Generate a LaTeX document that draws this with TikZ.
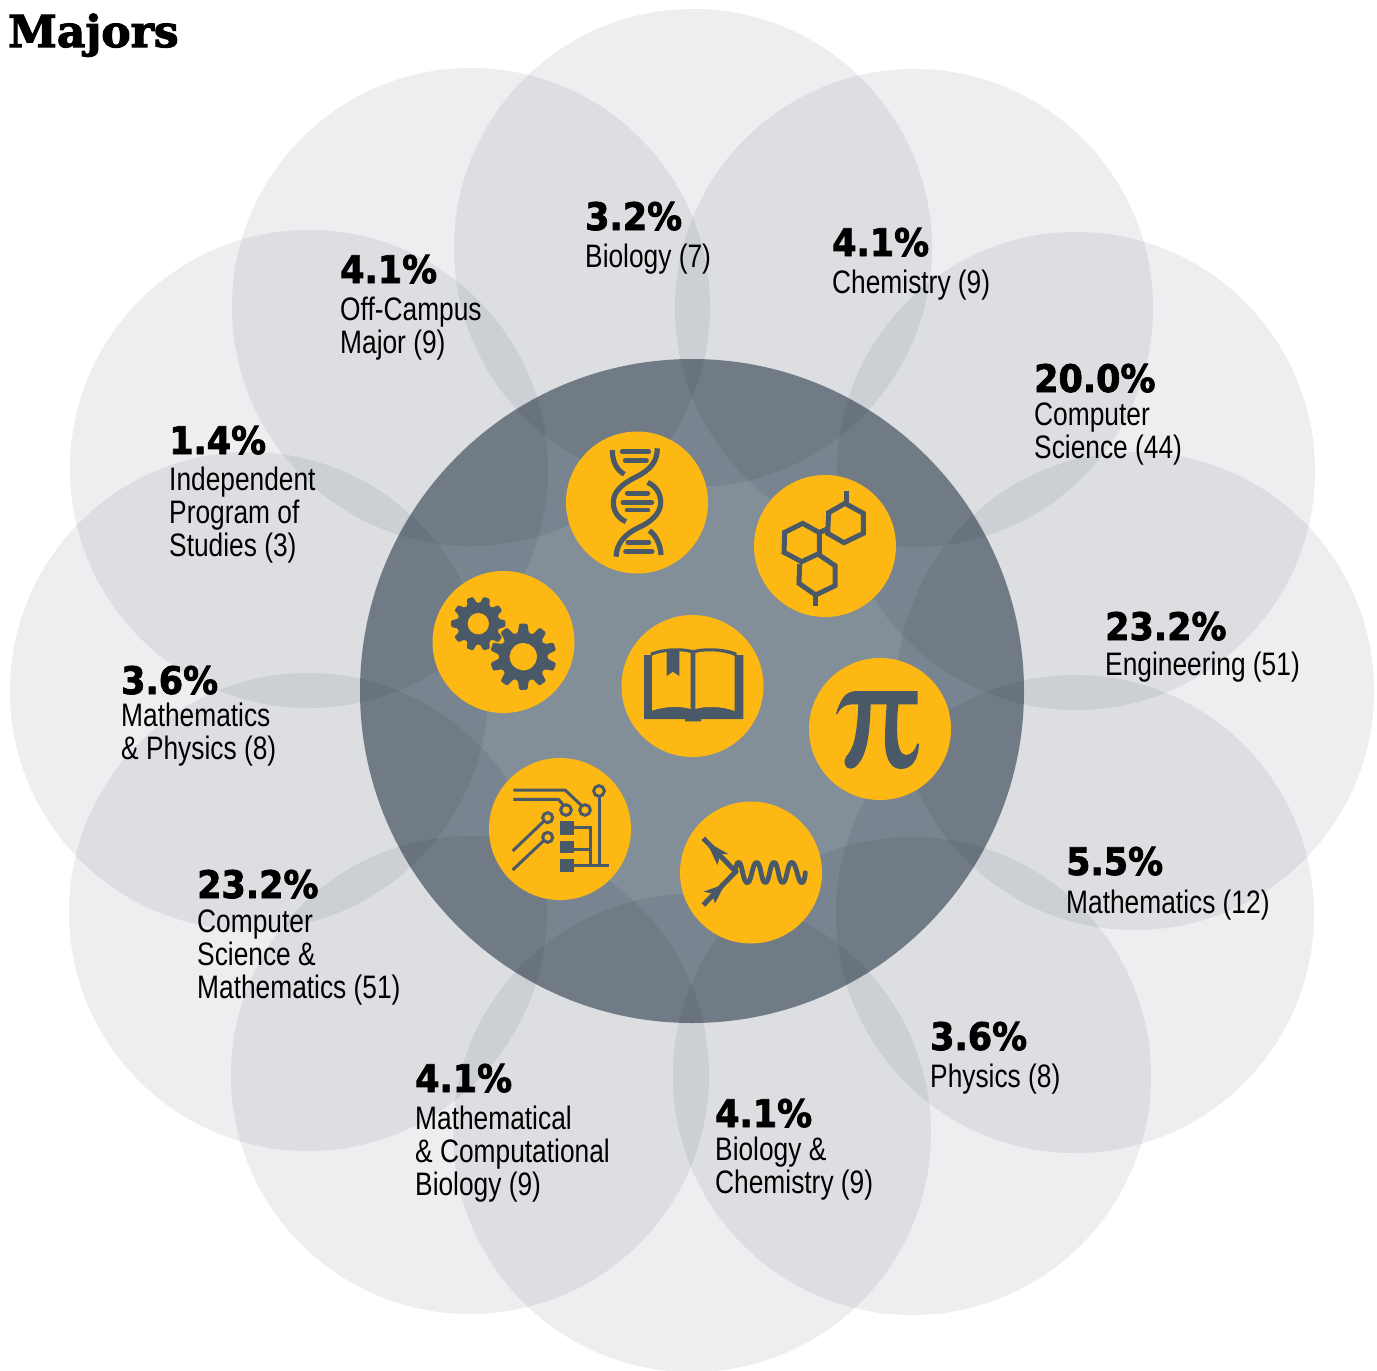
\documentclass[tikz,border=0pt]{standalone}
\usepackage{fontspec}
\setmainfont{Liberation Sans}
\newfontfamily\bodyfont[FakeStretch=0.81]{Liberation Sans}
\newfontfamily\pctfont[FakeBold=2,FakeStretch=0.92]{DejaVu Sans Bold}
\newfontfamily\titlefont[FakeBold=2.5]{DejaVu Serif Bold}
\definecolor{slate}{HTML}{4A5968}
\definecolor{gold}{HTML}{FDB813}
\definecolor{petalfill}{HTML}{EDEEF0}
\definecolor{hubfill}{HTML}{828E98}
\tikzset{
  petal/.style={circle,fill=petalfill,draw=none,minimum size=478pt,inner sep=0pt},
  hub/.style={circle,fill=hubfill,draw=none,minimum size=664pt,inner sep=0pt},
  disc/.style={circle,fill=gold,draw=none,minimum size=142pt,inner sep=0pt},
  pct/.style={anchor=base west,inner sep=0pt,font=\pctfont\fontsize{38}{38}\selectfont,text=black},
  lbl/.style={anchor=base west,inner sep=0pt,align=left,font=\bodyfont\fontsize{32.5}{33}\selectfont,text=black},
  ttl/.style={anchor=base west,inner sep=0pt,font=\titlefont\fontsize{44}{44}\selectfont,text=black},
  ink/.style={draw=slate,line cap=butt,line join=miter},
  zoomA/.style={xshift=550pt,yshift=-420pt,x=0.33333pt,y=-0.33333pt},
  zoomB/.style={xshift=420pt,yshift=-560pt,x=0.33333pt,y=-0.33333pt},
  zoomC/.style={xshift=480pt,yshift=-650pt,x=0.33333pt,y=-0.33333pt},
}
\newcommand{\cogwheel}[6]{%
  \begin{scope}[shift={(#1,#2)},rotate=#6]
    \fill[slate,rounded corners=1.2pt] (-13:#4) \foreach \a in {0,36,...,324} {
      -- (\a-13:#4) -- (\a-7:#3) -- (\a+7:#3) -- (\a+13:#4) } -- cycle;
    \fill[gold] (0,0) circle (#5);
  \end{scope}}
\begin{document}
\begin{tikzpicture}[x=1pt,y=-1pt]
\useasboundingbox (0,0) rectangle (1377,1371);
\fill[white] (0,0) rectangle (1377,1371);
\begin{scope}[blend mode=multiply]
% petals
\node[petal] (p1) at (693,248) {};
\node[petal] (p2) at (914,308) {};
\node[petal] (p3) at (1076,471) {};
\node[petal] (p4) at (1135,691) {};
\node[petal] (p5) at (1075,914) {};
\node[petal] (p6) at (912,1076) {};
\node[petal] (p7) at (692,1133) {};
\node[petal] (p8) at (470,1075) {};
\node[petal] (p9) at (308,912) {};
\node[petal] (p10) at (249,691) {};
\node[petal] (p11) at (309,469) {};
\node[petal] (p12) at (471,307) {};
\node[hub] (hub) at (692,691) {};
\end{scope}
% discs
\node[disc] (dna) at (637,502.5) {};
\node[disc] (mol) at (825,546) {};
\node[disc] (gears) at (503.5,642) {};
\node[disc] (book) at (692.5,686) {};
\node[disc] (pi) at (880,729) {};
\node[disc] (chip) at (560,829) {};
\node[disc] (feyn) at (751,872.5) {};
% DNA
\begin{scope}[zoomA]
  \draw[ink,line width=5.2pt] (322,85) .. controls (322,125) and (300,150) .. (260,170) .. controls (215,192) and (190,215) .. (190,247) .. controls (190,275) and (205,295) .. (228,305);
  \draw[ink,line width=5.2pt] (293,187) .. controls (320,200) and (332,222) .. (332,247) .. controls (332,280) and (305,305) .. (265,323) .. controls (225,342) and (200,370) .. (198,410);
  \draw[ink,line width=5.2pt] (187,90) .. controls (187,125) and (200,150) .. (223,163);
  \draw[ink,line width=5.2pt] (298,332) .. controls (318,345) and (332,375) .. (333,405);
  \draw[slate,line width=5pt,line cap=round] (217,95) -- (296,95);
  \draw[slate,line width=5pt,line cap=round] (226,122) -- (289,122);
  \draw[slate,line width=5pt,line cap=round] (232,220) -- (293,220);
  \draw[slate,line width=5pt,line cap=round] (219,247) -- (305,247);
  \draw[slate,line width=3.8pt,line cap=round] (230,271) -- (295,271);
  \draw[slate,line width=5pt,line cap=round] (234,367) -- (296,367);
  \draw[slate,line width=5pt,line cap=round] (227,394) -- (306,394);
  % molecule
  \draw[ink,line width=5pt] (885,250) -- (940,280) -- (940,340) -- (882,368) -- (833,340) -- (836,278) -- cycle;
  \draw[ink,line width=5pt] (890,212) -- (890,250);
  \draw[ink,line width=5pt] (758,310) -- (808,338) -- (808,400) -- (755,425) -- (702,397) -- (704,337) -- cycle;
  \draw[ink,line width=5pt] (808,338) -- (835,325);
  \draw[ink,line width=5pt] (808,405) -- (855,437) -- (855,497) -- (797,525) -- (747,490) -- (749,432);
  \draw[ink,line width=5pt] (797,525) -- (797,557);
\end{scope}
% gears
\begin{scope}[zoomB]
  \cogwheel{175}{191}{82}{63}{32}{0}
  \cogwheel{310}{290}{100}{73}{41}{18}
  % book
  \fill[slate] (672,285) -- (692,285) -- (692,278) .. controls (730,262) and (790,262) .. (815,270) -- (822,270) .. controls (850,262) and (910,262) .. (950,278) -- (950,285) -- (970,285) -- (970,477) -- (843,477) -- (843,484) -- (795,484) -- (795,477) -- (672,477) -- cycle;
  \fill[gold] (696,287) .. controls (730,273) and (785,270) .. (812,279) -- (812,447) .. controls (785,438) and (735,438) .. (696,452) -- cycle;
  \fill[gold] (826,279) .. controls (860,270) and (910,273) .. (944,288) -- (944,453) .. controls (905,438) and (855,438) .. (826,447) -- cycle;
  \fill[slate] (740,272) -- (778,272) -- (778,348) -- (759,335) -- (740,348) -- cycle;
\end{scope}
\begin{scope}[zoomC]
  % pi
  \fill[slate] (1068,192) .. controls (1080,150) and (1095,123) .. (1130,123) -- (1313,123) -- (1313,163) -- (1255,163) .. controls (1250,220) and (1245,312) .. (1277,315) .. controls (1295,315) and (1305,300) .. (1312,280) -- (1317,282) .. controls (1315,330) and (1295,357) .. (1262,357) .. controls (1225,357) and (1213,310) .. (1215,260) .. controls (1216,220) and (1218,190) .. (1220,163) -- (1172,163) .. controls (1170,230) and (1165,300) .. (1140,335) .. controls (1130,350) and (1120,357) .. (1110,356) .. controls (1095,355) and (1088,335) .. (1098,320) .. controls (1115,300) and (1130,280) .. (1135,163) -- (1115,163) .. controls (1095,163) and (1080,175) .. (1072,192) -- cycle;
  % feynman
  \draw[ink,line width=5pt] (670,565) -- (767,665) -- (670,765);
  \fill[slate] (680,575) -- (745,612) -- (722,612) -- (712,645) -- cycle;
  \fill[slate] (735,702) -- (670,725) -- (695,730) -- (705,760) -- cycle;
  \draw[slate,line width=4.8pt,line cap=round,line join=round] plot[smooth,tension=0.9] coordinates {(765,668) (778,637) (802,698) (830,637) (856,698) (882,637) (908,698) (935,637) (963,698) (976,668)};
  % circuit
  \draw[ink,line width=3pt] (100,420) -- (255,420) -- (305,467);
  \draw[ink,line width=3pt] (100,448) -- (235,448) -- (249,463);
  \draw[ink,line width=3pt] (258,480) circle (16);
  \draw[ink,line width=3pt] (315,480) circle (16);
  \draw[ink,line width=3pt] (357,423) circle (16);
  \draw[ink,line width=3pt] (357,439) -- (357,645);
  \draw[ink,line width=3pt] (325,645) -- (386,645);
  \draw[ink,line width=3pt] (203,503) circle (15);
  \draw[ink,line width=3pt] (191,514) -- (98,603);
  \draw[ink,line width=3pt] (203,562) circle (15);
  \draw[ink,line width=3pt] (191,572) -- (98,660);
  \fill[slate] (240,513) rectangle (283,555);
  \fill[slate] (240,573) rectangle (283,610);
  \fill[slate] (240,628) rectangle (283,665);
  \draw[ink,line width=3pt] (283,533) -- (330,533) -- (330,645);
  \draw[ink,line width=3pt] (283,598) -- (330,598);
  \draw[ink,line width=3pt] (283,645) -- (330,645);
\end{scope}
% text
\node[ttl] (title) at (8,47) {Majors};
\node[pct] (t1) at (585,230) {3.2\%};
\node[lbl] (l1) at (585,267) {Biology (7)};
\node[pct] (t2) at (832,256) {4.1\%};
\node[lbl] (l2) at (832,293) {Chemistry (9)};
\node[pct] (t3) at (1034,392) {20.0\%};
\node[lbl] (l3) at (1034,458) {Computer\\Science (44)};
\node[pct] (t4) at (1105,640) {23.2\%};
\node[lbl] (l4) at (1105,675) {Engineering (51)};
\node[pct] (t5) at (1066,875) {5.5\%};
\node[lbl] (l5) at (1066,913) {Mathematics (12)};
\node[pct] (t6) at (930,1050) {3.6\%};
\node[lbl] (l6) at (930,1087) {Physics (8)};
\node[pct] (t7) at (715,1127) {4.1\%};
\node[lbl] (l7) at (715,1193) {Biology \&\\Chemistry (9)};
\node[pct] (t8) at (415,1092) {4.1\%};
\node[lbl] (l8) at (415,1195) {Mathematical\\\& Computational\\Biology (9)};
\node[pct] (t9) at (197,898) {23.2\%};
\node[lbl] (l9) at (197,998) {Computer\\Science \&\\Mathematics (51)};
\node[pct] (t10) at (121,694) {3.6\%};
\node[lbl] (l10) at (121,759) {Mathematics\\\& Physics (8)};
\node[pct] (t11) at (169,454) {1.4\%};
\node[lbl] (l11) at (169,556) {Independent\\Program of\\Studies (3)};
\node[pct] (t12) at (340,283) {4.1\%};
\node[lbl] (l12) at (340,353) {Off-Campus\\Major (9)};
\end{tikzpicture}
\end{document}
